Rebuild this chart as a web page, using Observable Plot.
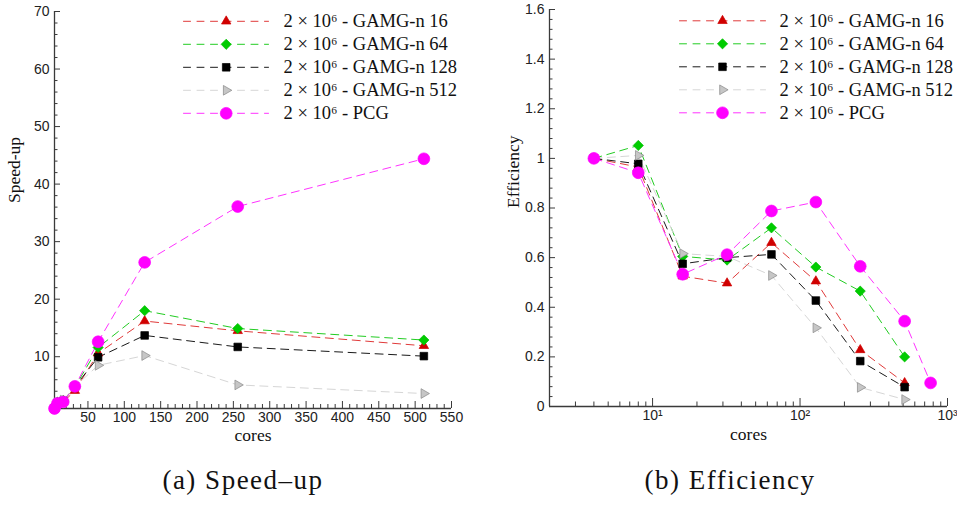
<!DOCTYPE html>
<html><head><meta charset="utf-8">
<script src="https://cdn.jsdelivr.net/npm/d3@7"></script>
<script src="https://cdn.jsdelivr.net/npm/@observablehq/plot@0.6"></script>
<style>
body{margin:0;background:#fff;}
#wrap{position:relative;width:957px;height:506px;overflow:hidden;background:#fff;}
#left,#right{position:absolute;top:0;}
#left{left:0px;} #right{left:478px;}
.cap{position:absolute;top:467px;font-family:"Liberation Serif","Times New Roman",serif;font-size:27px;letter-spacing:1.5px;white-space:nowrap;transform:translateX(-50%);line-height:27px;color:#111;}
</style></head><body>
<div id="wrap"><div id="left"></div><div id="right"></div>
<div class="cap" style="left:243px">(a) Speed–up</div>
<div class="cap" style="left:730px">(b) Efficiency</div></div>
<script>
// ---------- data ----------
const cores = [4, 8, 16, 32, 64, 128, 256, 512];
const coresPCGEff = [4, 8, 16, 32, 64, 128, 256, 512, 768];

const seriesNames = [
  "2 × 10⁶ - GAMG-n 16",
  "2 × 10⁶ - GAMG-n 64",
  "2 × 10⁶ - GAMG-n 128",
  "2 × 10⁶ - GAMG-n 512",
  "2 × 10⁶ - PCG"
];

const speedupGAMG16  = [1, 1.94, 2.1, 4.1, 10.6, 16.2, 14.5, 11.9];
const speedupGAMG64  = [1, 2.1, 2.4, 4.7, 11.6, 18.0, 14.9, 12.9];
const speedupGAMG128 = [1, 1.95, 2.3, 4.8, 9.9, 13.7, 11.7, 10.1];
const speedupGAMG512 = [1, 2.02, 2.46, 4.8, 8.5, 10.2, 5.1, 3.6];
const speedupPCG     = [1, 1.88, 2.15, 4.85, 12.6, 26.4, 36.1, 44.4];

const effGAMG16  = [1, 0.965, 0.525, 0.497, 0.66, 0.505, 0.228, 0.095];
const effGAMG64  = [1, 1.052, 0.605, 0.59, 0.72, 0.562, 0.465, 0.2];
const effGAMG128 = [1, 0.978, 0.575, 0.6, 0.613, 0.427, 0.183, 0.078];
const effGAMG512 = [1, 1.012, 0.616, 0.605, 0.528, 0.317, 0.077, 0.028];
const effPCG     = [1, 0.942, 0.533, 0.612, 0.788, 0.824, 0.565, 0.344, 0.095];

const speedupXTicks = [50, 100, 150, 200, 250, 300, 350, 400, 450, 500, 550];
const speedupYTicks = [10, 20, 30, 40, 50, 60, 70];
const effXTicks = [10, 100, 1000];
const effXTickLabels = ["10¹", "10²", "10³"];
const effYTicks = [0, 0.2, 0.4, 0.6, 0.8, 1, 1.2, 1.4, 1.6];

// ---------- styles ----------
const sans = "'Liberation Sans', Arial, sans-serif";
const serif = "'Liberation Serif', 'Times New Roman', serif";
const axisColor = "#3a3a3a";
const lineColors = ["#e03a3a", "#22cc22", "#1a1a1a", "#d6d6d6", "#ff33ff"];
const fillColors = ["#d00000", "#00cc00", "#000000", "#c6c6c6", "#ff00ff"];
const strokeColors = ["#d00000", "#00c000", "#000000", "#888888", "#ff00ff"];
const triangleRight = {
  draw(context, size) {
    const y = Math.sqrt(size / (3 * Math.sqrt(3)));
    context.moveTo(2 * y, 0);
    context.lineTo(-y, -Math.sqrt(3) * y);
    context.lineTo(-y, Math.sqrt(3) * y);
    context.closePath();
  }
};
const symbols = ["triangle", "diamond2", "square", triangleRight, "circle"];
const radii = [3.5, 4.6, 4.3, 3.6, 5.9];
const hLine = { draw(context, l) { context.moveTo(0, 0); context.lineTo(0, -l); } };

function rows(xs, vs) { return vs.map((v, i) => ({cores: xs[i], value: v})); }

function seriesMarks(data) {
  const m = [];
  data.forEach((d, s) => m.push(Plot.line(d, {x: "cores", y: "value", stroke: lineColors[s], strokeWidth: 1, strokeDasharray: "8,5.5"})));
  data.forEach((d, s) => m.push(Plot.dot(d, {x: "cores", y: "value", symbol: symbols[s], r: radii[s], fill: fillColors[s], stroke: strokeColors[s], strokeWidth: 0.7})));
  return m;
}

function legendMarks(lineDx, lineLen, markDx, textDx, dy0) {
  return seriesNames.flatMap((name, s) => {
    const dy = dy0 + 23 * s;
    return [
      Plot.vector([0], {frameAnchor: "top-left", dx: lineDx, dy, length: lineLen, rotate: 90, anchor: "start", shape: hLine, stroke: lineColors[s], strokeWidth: 1, strokeDasharray: "7,6.5"}),
      Plot.dot([0], {frameAnchor: "top-left", dx: markDx, dy, symbol: symbols[s], r: radii[s], fill: fillColors[s], stroke: strokeColors[s], strokeWidth: 0.7}),
      Plot.text([name], {frameAnchor: "top-left", dx: textDx, dy, text: d => d, textAnchor: "start", lineAnchor: "middle", fontFamily: serif, fontSize: 18.5, fill: "#111"})
    ];
  });
}

function axisTitles(xTitle, xDy, yTitle, yDx, yDy) {
  return [
    Plot.text([xTitle], {frameAnchor: "bottom", dy: xDy, text: d => d, lineAnchor: "bottom", fontFamily: serif, fontSize: 17.5, fill: "#111"}),
    Plot.text([yTitle], {frameAnchor: "left", dx: yDx, dy: yDy, text: d => d, rotate: -90, lineAnchor: "top", fontFamily: serif, fontSize: 17.5, fill: "#111"})
  ];
}

function minorTicks(from, to, step, majorStep) {
  const out = [];
  for (let v = from; v <= to + 1e-9; v += step) {
    const r = v / majorStep;
    if (Math.abs(r - Math.round(r)) > 1e-6) out.push(+v.toFixed(4));
  }
  return out;
}

// ---------- left: speed-up ----------
const speedData = [speedupGAMG16, speedupGAMG64, speedupGAMG128, speedupGAMG512, speedupPCG].map(v => rows(cores, v));
const left = Plot.plot({
  width: 478, height: 445,
  marginLeft: 54, marginRight: 27, marginTop: 11, marginBottom: 37,
  x: {domain: [4, 550]},
  y: {domain: [1, 70]},
  style: {background: "transparent", overflow: "visible"},
  marks: [
    Plot.axisX({ticks: speedupXTicks, tickSize: 0, tickPadding: 4, fontFamily: sans, fontSize: 14, fill: "#222", label: null}),
    Plot.axisX({ticks: speedupXTicks, tickSize: -7, stroke: axisColor, fill: "none", label: null}),
    Plot.axisX({ticks: minorTicks(10, 540, 10, 50), tickSize: -4, stroke: axisColor, fill: "none", label: null}),
    Plot.axisY({ticks: speedupYTicks, tickSize: 0, tickPadding: 5, fontFamily: sans, fontSize: 14, fill: "#222", label: null}),
    Plot.axisY({ticks: speedupYTicks, tickSize: -6, stroke: axisColor, fill: "none", label: null}),
    Plot.axisY({ticks: minorTicks(2, 68, 2, 10), tickSize: -3.5, stroke: axisColor, fill: "none", label: null}),
    ...axisTitles("cores", 32.5, "Speed-up", -46.5, -7),
    Plot.ruleX([4], {stroke: axisColor, strokeWidth: 1.3}),
    Plot.ruleY([1], {stroke: axisColor, strokeWidth: 1.3}),
    ...seriesMarks(speedData),
    ...legendMarks(129, 85, 171.7, 229, 9.8)
  ]
});
document.getElementById("left").appendChild(left);

// ---------- right: efficiency ----------
const effData = [effGAMG16, effGAMG64, effGAMG128, effGAMG512].map(v => rows(cores, v)).concat([rows(coresPCGEff, effPCG)]);
const logMinor = [3,4,5,6,7,8,9,20,30,40,50,60,70,80,90,200,300,400,500,600,700,800,900];
const right = Plot.plot({
  width: 479, height: 445,
  marginLeft: 71, marginRight: 10, marginTop: 9, marginBottom: 39,
  x: {type: "log", domain: [2, 1000]},
  y: {domain: [0, 1.6]},
  style: {background: "transparent", overflow: "visible"},
  marks: [
    Plot.axisX({ticks: effXTicks, tickFormat: d => effXTickLabels[effXTicks.indexOf(d)], tickSize: 0, tickPadding: 4, fontFamily: sans, fontSize: 14, fill: "#222", label: null}),
    Plot.axisX({ticks: effXTicks, tickSize: -8, stroke: axisColor, fill: "none", label: null}),
    Plot.axisX({ticks: logMinor, tickSize: -4.5, stroke: axisColor, fill: "none", label: null}),
    Plot.axisY({ticks: effYTicks, tickFormat: d => String(+d.toFixed(2)), tickSize: 0, tickPadding: 5, fontFamily: sans, fontSize: 14, fill: "#222", label: null}),
    Plot.axisY({ticks: effYTicks, tickSize: -6, stroke: axisColor, fill: "none", label: null}),
    Plot.axisY({ticks: minorTicks(0.04, 1.56, 0.04, 0.2), tickSize: -3.5, stroke: axisColor, fill: "none", label: null}),
    ...axisTitles("cores", 33, "Efficiency", -42.5, 0),
    Plot.ruleX([2], {stroke: axisColor, strokeWidth: 1.3}),
    Plot.ruleY([0], {stroke: axisColor, strokeWidth: 1.3}),
    ...seriesMarks(effData),
    ...legendMarks(130, 86, 173, 230, 11.3)
  ]
});
document.getElementById("right").appendChild(right);
</script>
</body></html>
